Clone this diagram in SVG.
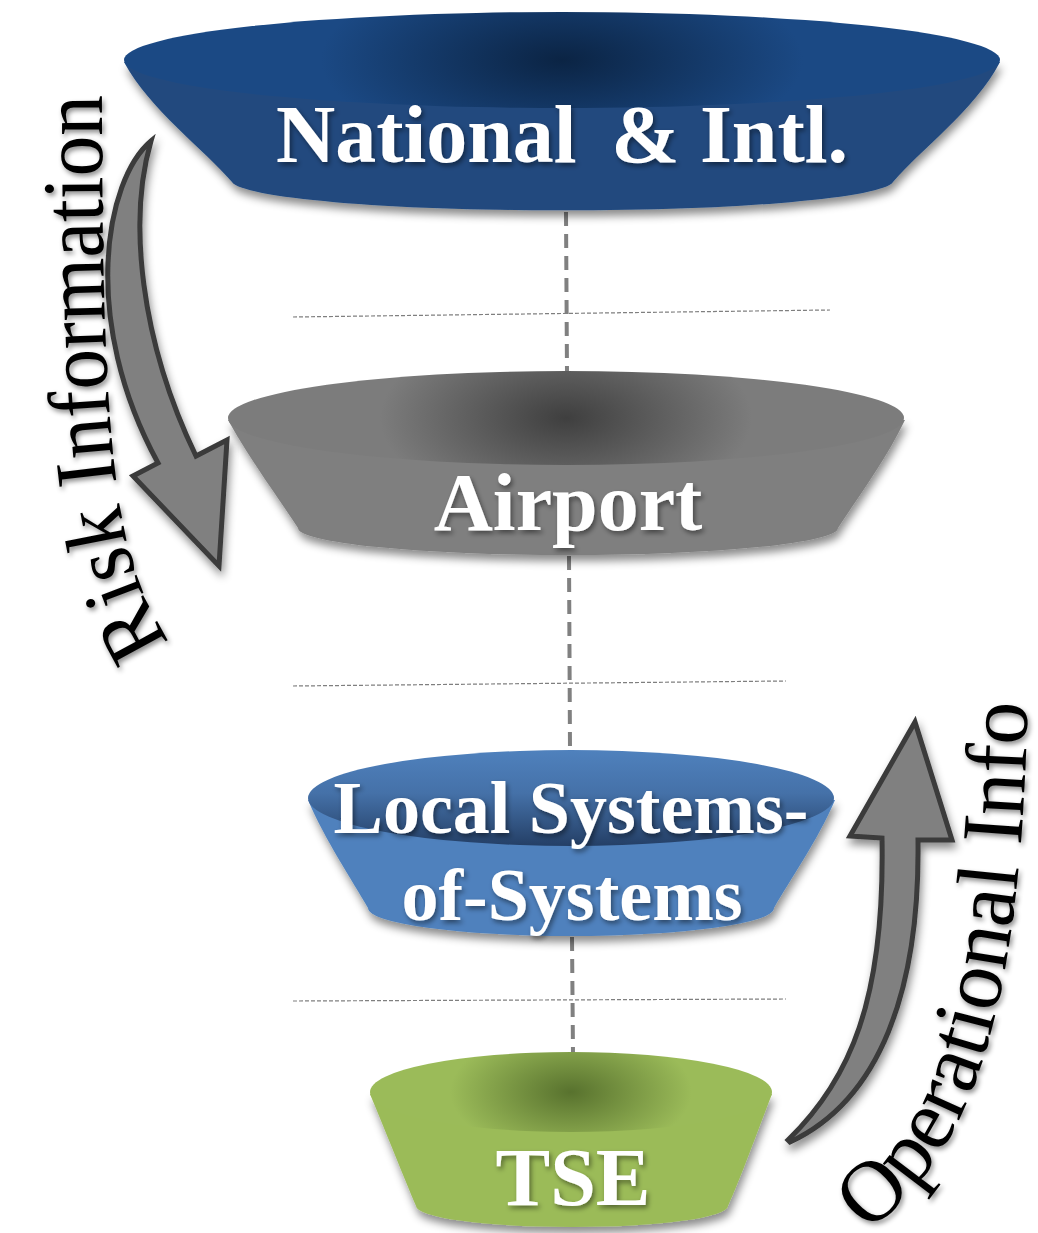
<svg xmlns="http://www.w3.org/2000/svg" width="1038" height="1233" viewBox="0 0 1038 1233">
<defs>
<radialGradient id="gNat" cx="0.5" cy="0.5" r="0.5" gradientTransform="translate(0.5 0.5) scale(0.55 2) translate(-0.5 -0.5)">
<stop offset="0" stop-color="#0b2444"/><stop offset="1" stop-color="#1b4984"/></radialGradient>
<radialGradient id="gAir" cx="0.5" cy="0.5" r="0.5" gradientTransform="translate(0.5 0.5) scale(0.55 2) translate(-0.5 -0.5)">
<stop offset="0" stop-color="#3f3f3f"/><stop offset="1" stop-color="#7c7c7c"/></radialGradient>
<linearGradient id="gLoc" x1="0" y1="0" x2="0" y2="1">
<stop offset="0" stop-color="#4f81bd"/><stop offset="0.45" stop-color="#4571a8"/><stop offset="1" stop-color="#243f66"/></linearGradient>
<radialGradient id="gTse" cx="0.5" cy="0.5" r="0.5" gradientTransform="translate(0.5 0.5) scale(0.6 1.6) translate(-0.5 -0.5)">
<stop offset="0" stop-color="#58722e"/><stop offset="1" stop-color="#9bbb59"/></radialGradient>
<filter id="shadow" x="-10%" y="-10%" width="120%" height="130%">
<feDropShadow dx="2" dy="6" stdDeviation="4" flood-color="#000" flood-opacity="0.45"/></filter>
<filter id="tshadow" x="-10%" y="-10%" width="120%" height="130%">
<feDropShadow dx="2" dy="3" stdDeviation="2.5" flood-color="#000" flood-opacity="0.45"/></filter>
<path id="pRisk" d="M 170,642 C 113,555 101,460 102,30"/>
<path id="pOps" d="M 868,1232 C 955,1160 1028,1060 1028,640"/>
</defs>
<style>
.lbl{font-family:"Liberation Serif","Times New Roman",serif;font-weight:bold;fill:#fff;text-anchor:middle;filter:url(#tshadow)}
.side{font-family:"Liberation Serif","Times New Roman",serif;font-size:87px;fill:#000;filter:url(#tshadow)}
.arrow{fill:#808080;stroke:#3a3a3a;stroke-width:5;stroke-linejoin:miter;filter:url(#shadow)}
.vdash{stroke:#808080;stroke-width:4;stroke-dasharray:14 8;fill:none}
.hdash{stroke:#7f7f7f;stroke-width:1.2;stroke-dasharray:4 2;fill:none}
</style>
<g id="connectors">
<line class="hdash" x1="293" y1="317" x2="830" y2="310"/>
<line class="hdash" x1="293" y1="686" x2="786" y2="681"/>
<line class="hdash" x1="293" y1="1001" x2="786" y2="999"/>
<line class="vdash" x1="566" y1="212" x2="567" y2="374"/>
<line class="vdash" x1="569" y1="556" x2="570" y2="750"/>
<line class="vdash" x1="572" y1="937" x2="573" y2="1054"/>
</g>
<g id="node-national">
<path filter="url(#shadow)" fill="#21497e" d="M 124,62 C 150,110 205,150 232,182 A 331 30 0 0 0 893,182 C 920,150 975,110 1000,62 Z"/>
<ellipse cx="562" cy="60" rx="438" ry="48" fill="url(#gNat)"/>
<text class="lbl" x="562" y="162" font-size="82">National <tspan dx="14">&amp;</tspan> Intl.</text>
</g>
<g id="node-airport">
<path filter="url(#shadow)" fill="#7f7f7f" d="M 228,420 C 250,460 280,500 298,528 A 270 27 0 0 0 838,528 C 856,500 886,460 905,420 Z"/>
<ellipse cx="566" cy="418" rx="338" ry="47" fill="url(#gAir)"/>
<text class="lbl" x="568" y="530" font-size="82">Airport</text>
</g>
<g id="node-local">
<path filter="url(#shadow)" fill="#4f81bd" d="M 308,800 C 325,840 352,880 368,908 A 203 28 0 0 0 774,908 C 790,880 818,840 835,800 Z"/>
<ellipse cx="571" cy="798" rx="263" ry="48" fill="url(#gLoc)"/>
<text class="lbl" x="571" y="833" font-size="74">Local Systems-</text>
<text class="lbl" x="572" y="920" font-size="74">of-Systems</text>
</g>
<g id="node-tse">
<path filter="url(#shadow)" fill="#9bbb59" d="M 370,1094 C 385,1130 405,1180 416,1206 A 156 21 0 0 0 728,1206 C 740,1180 758,1130 772,1094 Z"/>
<ellipse cx="571" cy="1092" rx="201" ry="40" fill="url(#gTse)"/>
<text class="lbl" x="573" y="1205" font-size="82">TSE</text>
</g>
<g id="flows">
<path class="arrow" d="M 151,141 C 105,180 80,320 158,463 L 133,476 L 219,566 L 227,440 L 196,456 C 140,340 128,220 151,141 Z"/>
<path class="arrow" d="M 788,1140 C 850,1080 885,1000 882,838 L 850,836 L 915,722 L 952,840 L 918,840 C 920,990 880,1100 790,1142 Z"/>
<text class="side"><textPath href="#pRisk" textLength="558" lengthAdjust="spacingAndGlyphs">Risk Information</textPath></text>
<text class="side"><textPath href="#pOps" textLength="572" lengthAdjust="spacingAndGlyphs">Operational Info</textPath></text>
</g>
</svg>
